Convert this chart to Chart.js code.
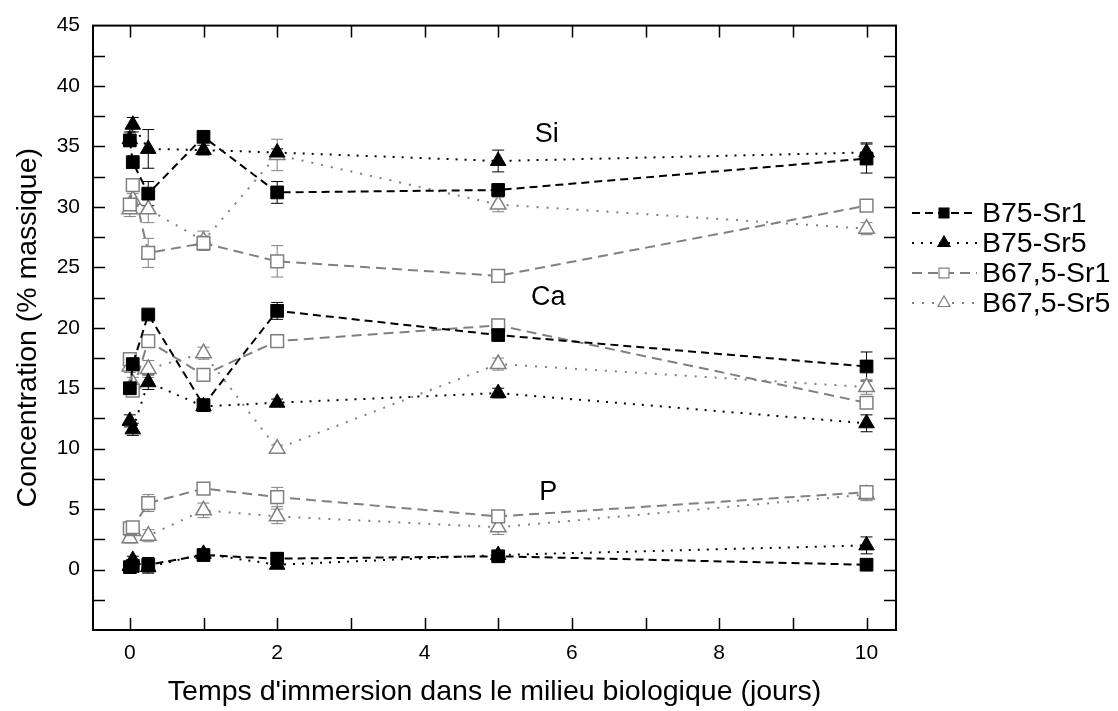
<!DOCTYPE html>
<html>
<head>
<meta charset="utf-8">
<script src="https://cdn.jsdelivr.net/npm/chart.js@4.4.1/dist/chart.umd.min.js"></script>
<style>
  html, body { margin: 0; padding: 0; background: #fff; }
  canvas { display: block; }
</style>
</head>
<body>
<canvas id="chart-conc" width="1118" height="711"></canvas>
<script>
// immersion times (days)
const times = [0, 0.04, 0.25, 1, 2, 5, 10];
const seriesNames = ["B75-Sr1", "B75-Sr5", "B67,5-Sr1", "B67,5-Sr5"];
const elements = ["Si", "Ca", "P"];

// concentrations (% massique), one array per glass and element
const b75sr1Si = [35.5, 33.7, 31.1, 35.8, 31.2, 31.4, 34.0];
const b75sr1Ca = [15.0, 17.0, 21.1, 13.6, 21.4, 19.4, 16.8];
const b75sr1P  = [0.2, 0.3, 0.4, 1.2, 0.9, 1.1, 0.4];

const b75sr5Si = [35.6, 36.8, 34.8, 34.7, 34.5, 33.8, 34.5];
const b75sr5Ca = [12.3, 11.6, 15.5, 13.5, 13.8, 14.6, 12.1];
const b75sr5P  = [0.3, 0.8, 0.2, 1.3, 0.4, 1.2, 2.0];

const b67sr1Si = [30.2, 31.8, 26.2, 27.0, 25.5, 24.3, 30.1];
const b67sr1Ca = [17.4, 14.8, 18.9, 16.1, 18.9, 20.2, 13.8];
const b67sr1P  = [3.4, 3.5, 5.5, 6.7, 6.0, 4.4, 6.4];

const b67sr5Si = [29.8, 30.6, 29.8, 27.2, 34.3, 30.2, 28.2];
const b67sr5Ca = [16.8, 15.4, 16.6, 17.9, 10.0, 17.0, 15.1];
const b67sr5P  = [2.6, 3.2, 2.8, 4.9, 4.4, 3.5, 6.2];

// error bars (+/-)
const b75sr1SiErr = [0.5, 0.5, 1.0, 0.3, 0.9, 0.5, 1.2];
const b75sr1CaErr = [0.3, 0.3, 0.3, 0.3, 0.7, 0.3, 1.2];
const b75sr1PErr  = [0.2, 0.2, 0.6, 0.4, 0.5, 0.3, 0.2];
const b75sr5SiErr = [0.6, 0.6, 1.6, 0.4, 0.3, 0.9, 0.8];
const b75sr5CaErr = [0.5, 0.5, 0.6, 0.4, 0.3, 0.4, 0.7];
const b75sr5PErr  = [0.3, 0.3, 0.5, 0.4, 0.3, 0.3, 0.7];
const b67sr1SiErr = [0.5, 0.5, 1.2, 0.6, 1.3, 0.2, 0.2];
const b67sr1CaErr = [0.4, 0.4, 0.3, 0.3, 0.2, 0.5, 0.3];
const b67sr1PErr  = [0.4, 0.3, 0.7, 0.3, 0.8, 0.3, 0.2];
const b67sr5SiErr = [0.6, 0.5, 1.1, 0.8, 1.3, 0.6, 0.5];
const b67sr5CaErr = [0.5, 0.5, 0.7, 0.5, 0.3, 0.5, 0.6];
const b67sr5PErr  = [0.4, 0.3, 0.5, 0.6, 0.6, 0.6, 0.5];

const xTickLabels = [0, 2, 4, 6, 8, 10];
const yTickLabels = [0, 5, 10, 15, 20, 25, 30, 35, 40, 45];
const xMinorTicks = [0, 1, 2, 3, 4, 5, 6, 7, 8, 9, 10];
const yMinorTicks = [-2.5, 0, 2.5, 5, 7.5, 10, 12.5, 15, 17.5, 20, 22.5, 25, 27.5, 30, 32.5, 35, 37.5, 40, 42.5];

const seriesValues = [
  [b75sr1Si, b75sr1Ca, b75sr1P],
  [b75sr5Si, b75sr5Ca, b75sr5P],
  [b67sr1Si, b67sr1Ca, b67sr1P],
  [b67sr5Si, b67sr5Ca, b67sr5P]
];
const seriesErrors = [
  [b75sr1SiErr, b75sr1CaErr, b75sr1PErr],
  [b75sr5SiErr, b75sr5CaErr, b75sr5PErr],
  [b67sr1SiErr, b67sr1CaErr, b67sr1PErr],
  [b67sr5SiErr, b67sr5CaErr, b67sr5PErr]
];

const FONT = "'Liberation Sans', Arial, sans-serif";
const grey = "#808080";
var styles = [
  {line: "#000", fill: "#000", edge: "#000", shape: "rect", dash: [8, 5]},
  {line: "#000", fill: "#000", edge: "#000", shape: "triangle", dash: [2, 7]},
  {line: grey, fill: "#fff", edge: grey, shape: "rect", dash: [10, 6]},
  {line: grey, fill: "#fff", edge: grey, shape: "triangle", dash: [2, 8]}
];

// element labels, placed in data coordinates
const elementLabelPos = {Si: [5.66, 36.0], Ca: [5.68, 22.5], P: [5.68, 6.4]};

var datasets = [];
seriesNames.forEach((name, s) => {
  elements.forEach((el, e) => {
    datasets.push({
      label: name + " " + el,
      series: s,
      errors: seriesErrors[s][e],
      data: times.map((t, i) => ({x: t, y: seriesValues[s][e][i]})),
      showLine: true,
      borderColor: styles[s].line,
      borderWidth: 2,
      borderDash: styles[s].dash,
      pointStyle: styles[s].shape,
      pointRadius: 9,
      pointBackgroundColor: styles[s].fill,
      pointBorderColor: styles[s].edge,
      pointBorderWidth: s < 2 ? 1 : 1.5
    });
  });
});

const errorBars = {
  id: "errorBars",
  beforeDatasetsDraw(chart) {
    const ctx = chart.ctx, ys = chart.scales.y;
    ctx.save();
    ctx.setLineDash([]);
    ctx.lineWidth = 1;
    chart.data.datasets.forEach((ds, di) => {
      const meta = chart.getDatasetMeta(di);
      ctx.strokeStyle = styles[ds.series].edge;
      ds.data.forEach((p, i) => {
        const err = ds.errors[i];
        if (!err) return;
        const x = meta.data[i].x;
        const y1 = ys.getPixelForValue(p.y + err), y2 = ys.getPixelForValue(p.y - err);
        ctx.beginPath();
        ctx.moveTo(x, y1); ctx.lineTo(x, y2);
        ctx.moveTo(x - 6, y1); ctx.lineTo(x + 6, y1);
        ctx.moveTo(x - 6, y2); ctx.lineTo(x + 6, y2);
        ctx.stroke();
      });
    });
    ctx.restore();
  }
};

const frame = {
  id: "frame",
  afterDraw(chart) {
    const ctx = chart.ctx, a = chart.chartArea;
    const xs = chart.scales.x, ys = chart.scales.y;
    ctx.save();
    ctx.setLineDash([]);
    ctx.strokeStyle = "#000";
    ctx.lineWidth = 2;
    ctx.strokeRect(a.left, a.top, a.right - a.left, a.bottom - a.top);
    ctx.lineWidth = 1.5;
    ctx.beginPath();
    yMinorTicks.forEach(v => {
      const y = Math.round(ys.getPixelForValue(v)) + 0.5;
      ctx.moveTo(a.left, y); ctx.lineTo(a.left + 12, y);
      ctx.moveTo(a.right, y); ctx.lineTo(a.right - 12, y);
    });
    xMinorTicks.forEach(v => {
      const x = Math.round(xs.getPixelForValue(v)) + 0.5;
      ctx.moveTo(x, a.bottom); ctx.lineTo(x, a.bottom - 12);
      ctx.moveTo(x, a.top); ctx.lineTo(x, a.top + 12);
    });
    ctx.stroke();

    // element labels
    ctx.fillStyle = "#000";
    ctx.font = "27px " + FONT;
    ctx.textAlign = "center";
    ctx.textBaseline = "middle";
    elements.forEach(el => {
      const p = elementLabelPos[el];
      ctx.fillText(el, xs.getPixelForValue(p[0]), ys.getPixelForValue(p[1]));
    });

    // legend on the right
    seriesNames.forEach((name, s) => {
      const st = styles[s];
      const y = 213 + s * 30;
      ctx.strokeStyle = st.line;
      ctx.lineWidth = 2;
      ctx.setLineDash(st.dash);
      ctx.beginPath();
      ctx.moveTo(912, y); ctx.lineTo(977, y);
      ctx.stroke();
      ctx.setLineDash([]);
      ctx.fillStyle = st.fill;
      ctx.strokeStyle = st.edge;
      ctx.lineWidth = 1.2;
      Chart.helpers.drawPoint(ctx, {pointStyle: st.shape, radius: 7, rotation: 0, borderWidth: 1.2}, 944, y);
      ctx.fillStyle = "#000";
      ctx.font = "28.5px " + FONT;
      ctx.textAlign = "left";
      ctx.textBaseline = "middle";
      ctx.fillText(name, 982, y + 1);
    });
    ctx.restore();
  }
};

new Chart("chart-conc", {
  type: "scatter",
  data: {datasets: datasets},
  options: {
    responsive: false,
    animation: false,
    devicePixelRatio: 1,
    layout: {padding: {top: 24, right: 222, left: 0, bottom: 0}},
    plugins: {legend: {display: false}, tooltip: {enabled: false}},
    scales: {
      x: {
        type: "linear",
        min: -0.5,
        max: 10.4,
        afterBuildTicks: s => { s.ticks = xTickLabels.map(v => ({value: v})); },
        afterFit: s => { s.height = 81; },
        grid: {display: false, drawTicks: false},
        border: {display: false},
        ticks: {padding: 11, color: "#000", autoSkip: false, maxRotation: 0, font: {size: 21, family: FONT}},
        title: {
          display: true,
          text: "Temps d'immersion dans le milieu biologique (jours)",
          color: "#000",
          font: {size: 28.5, family: FONT},
          padding: {top: 2, bottom: 2}
        }
      },
      y: {
        min: -5,
        max: 45,
        afterBuildTicks: s => { s.ticks = yTickLabels.map(v => ({value: v})); },
        afterFit: s => { s.width = 93; },
        grid: {display: false, drawTicks: false},
        border: {display: false},
        ticks: {padding: 13, color: "#000", font: {size: 21, family: FONT}},
        title: {
          display: true,
          text: "Concentration (% massique)",
          color: "#000",
          font: {size: 28.5, family: FONT},
          padding: {top: 11, bottom: 11}
        }
      }
    }
  },
  plugins: [errorBars, frame]
});
</script>
</body>
</html>
